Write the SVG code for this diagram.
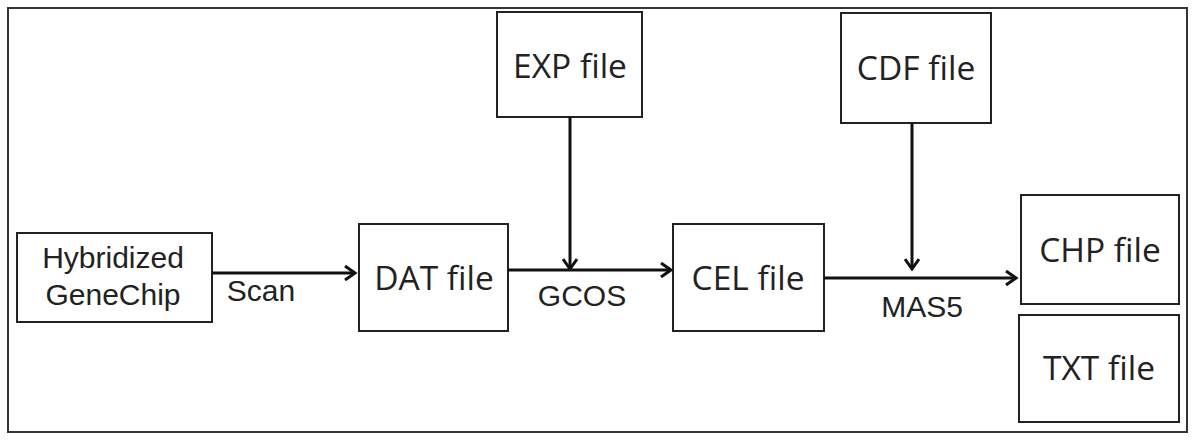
<svg xmlns="http://www.w3.org/2000/svg" width="1194" height="443" viewBox="0 0 1194 443">
<style>
.box{fill:#fff;stroke:#222;stroke-width:2}
.frame{fill:#fff;stroke:#333;stroke-width:2}
.lbl{font-family:"Open Sans",sans-serif;font-size:33.5px;fill:#222;text-anchor:middle}
.arial{font-family:"Liberation Sans",Arial,sans-serif;font-size:30px;fill:#222;text-anchor:middle}
.edge{fill:none;stroke:#111;stroke-width:3}
</style>
<defs>
<marker id="arr" markerWidth="16" markerHeight="16" refX="13" refY="8" orient="auto" markerUnits="userSpaceOnUse">
<polyline points="3,1 13,8 3,15" fill="none" stroke="#111" stroke-width="3"/>
</marker>
</defs>
<rect class="frame" x="8" y="8" width="1179" height="424"/>
<g id="hyb"><rect class="box" x="17" y="233" width="195" height="89"/>
<text class="arial" x="113" y="268">Hybridized</text><text class="arial" x="113" y="305">GeneChip</text></g>
<g id="dat"><rect class="box" x="359" y="224" width="149" height="107"/><text class="lbl" x="434" y="290">DAT file</text></g>
<g id="exp"><rect class="box" x="497" y="12" width="145" height="105"/><text class="lbl" x="570" y="78">EXP file</text></g>
<g id="cel"><rect class="box" x="673" y="224" width="151" height="107"/><text class="lbl" x="748" y="290">CEL file</text></g>
<g id="cdf"><rect class="box" x="841" y="13" width="150" height="110"/><text class="lbl" x="916" y="80">CDF file</text></g>
<g id="chp"><rect class="box" x="1021" y="195" width="158" height="109"/><text class="lbl" x="1100" y="262">CHP file</text></g>
<g id="txt"><rect class="box" x="1019" y="315" width="160" height="107"/><text class="lbl" x="1099" y="380">TXT file</text></g>
<g id="connectors">
<line class="edge" x1="212" y1="273" x2="355" y2="273" marker-end="url(#arr)"/>
<line class="edge" x1="508" y1="270" x2="671" y2="270" marker-end="url(#arr)"/>
<line class="edge" x1="570" y1="117" x2="570" y2="269" marker-end="url(#arr)"/>
<line class="edge" x1="824" y1="278" x2="1016" y2="278" marker-end="url(#arr)"/>
<line class="edge" x1="912" y1="123" x2="912" y2="269" marker-end="url(#arr)"/>
<text class="arial" x="261" y="301">Scan</text>
<text class="arial" x="582" y="306">GCOS</text>
<text class="arial" x="922" y="317">MAS5</text>
</g>
</svg>
